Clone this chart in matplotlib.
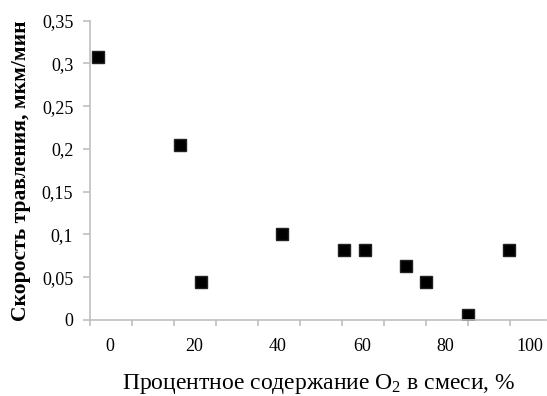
import numpy as np
import matplotlib.pyplot as plt
from matplotlib.ticker import MultipleLocator, FixedLocator, FuncFormatter

plt.rcParams['font.family'] = ['Liberation Serif', 'DejaVu Serif']
plt.rcParams['mathtext.fontset'] = 'custom'
plt.rcParams['mathtext.rm'] = 'Liberation Serif'
plt.rcParams['mathtext.it'] = 'Liberation Serif:italic'

# oxygen content, % (read against the tick labels) and etch rate, um/min
o2 = [-2.8, 16.7, 21.7, 41.1, 55.8, 60.8, 70.5, 75.4, 85.2, 95.0]
rate = [0.308, 0.204, 0.044, 0.101, 0.082, 0.082, 0.063, 0.044, 0.006, 0.082]

x_labels = ['0', '20', '40', '60', '80', '100']
x_label_pos = [0, 20, 40, 60, 80, 100]

fig = plt.figure(figsize=(5.47, 3.96), dpi=100)
ax = fig.add_axes([0.1645, 0.192, 0.8345, 0.756])

ax.plot(o2, rate, 's', color='black', markersize=9, markeredgecolor='#222222')

ax.set_xlim(-4.76, 104)
ax.set_ylim(0, 0.35)

grey = '#bfbfbf'
for s in ['top', 'right']:
    ax.spines[s].set_visible(False)
for s in ['left', 'bottom']:
    ax.spines[s].set_color(grey)
    ax.spines[s].set_linewidth(1.2)

# tick marks every 10 starting at the y axis, labels shifted as in the source
ax.xaxis.set_major_locator(MultipleLocator(10, offset=-4.76))
ax.xaxis.set_major_formatter(FuncFormatter(lambda v, p: ''))
ax.xaxis.set_minor_locator(FixedLocator(x_label_pos))
ax.xaxis.set_minor_formatter(FuncFormatter(lambda v, p: x_labels[p] if p is not None and p < len(x_labels) else ''))
ax.tick_params(axis='x', which='major', length=4, width=1.2, color=grey, direction='out')
ax.tick_params(axis='x', which='minor', length=0, pad=13, labelsize=13)

ax.yaxis.set_major_locator(MultipleLocator(0.05))
ax.yaxis.set_major_formatter(FuncFormatter(lambda v, p: ('%g' % round(v, 2)).replace('.', ',')))
ax.tick_params(axis='y', length=5, width=1.2, color=grey, direction='out', pad=7, labelsize=13)

ax.set_xlabel('Процентное содержание O$_2$ в смеси, %', fontsize=17, labelpad=12)
ax.set_ylabel('Скорость травления, мкм/мин', fontsize=15.5, fontweight='bold', labelpad=8)

fig.savefig('out.png', dpi=100)
